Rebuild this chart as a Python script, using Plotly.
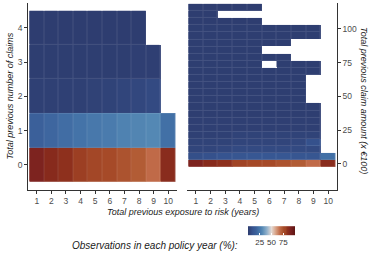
import plotly.graph_objects as go

# ---- data ----
exposure_years = [1, 2, 3, 4, 5, 6, 7, 8, 9, 10]
n_claims = [0, 1, 2, 3, 4]
claims_pct = [
    [90, 87, 84, 81, 78, 76, 74, 72, 68, 86],
    [17, 19, 21, 23, 25, 26, 28, 29, 30, 22],
    [2, 2, 2, 2, 2.5, 3, 4, 5, 6, None],
    [1, 1, 1, 1, 1, 1, 1, 1.5, 1.5, None],
    [0.5, 0.5, 0.5, 0.5, 0.5, 0.5, 0.5, 0.5, None, None],
]

claim_amount = [0, 5.26, 10.53, 15.79, 21.05, 26.32, 31.58, 36.84, 42.11, 47.37,
                52.63, 57.89, 63.16, 68.42, 73.68, 78.95, 84.21, 89.47, 94.74,
                100, 105.26, 110.53, 115.79]
N = None
amount_pct = [
    [90, 87, 84, 80, 77, 76, 74, 72, 68, 86],
    [8, 9, 10, 11, 12, 12, 12, 11, 11, 22],
    [4, 4, 5, 6, 6, 6, 6, 6, 6, N],
    [3, 3, 3, 4, 4, 4, 4, 5, 9, N],
    [2, 2, 2, 3, 3, 3, 3, 3, 3, N],
    [1.5, 1.5, 1.5, 1.5, 1.5, 1.5, 1.5, 1.5, 1.5, N],
    [1.5, 1.5, 1.5, 1.5, 1.5, 1.5, 1.5, 1.5, 1.5, N],
    [1, 1, 1, 1, 1, 1, 1, 1, 1, N],
    [1, 1, 1, 1, 1, 1, 1, 1, 1, N],
    [1, 1, 1, 1, 1, 1, 1, 1, N, N],
    [1, 1, 1, 1, 1, 1, 1, 1, N, N],
    [1, 1, 1, 1, 1, 1, 1, 1, N, N],
    [1, 1, 1, 1, 1, 1, 1, 1, N, N],
    [1, 1, 1, 1, 1, 1, 1, 1, 1, N],
    [1, 1, 1, 1, 1, N, 1, 1, 1, N],
    [1, 1, 1, 1, 1, 1, 1, N, N, N],
    [1, 1, 1, 1, 1, N, N, N, N, N],
    [1, 1, 1, 1, 1, 1, 1, N, N, N],
    [1, 1, 1, 1, 1, 1, 1, 1, 1, N],
    [1, 1, 1, 1, 1, 1, 1, 1, 1, N],
    [0.5, 0.5, 0.5, 0.5, 0.5, N, N, N, N, N],
    [0.5, 0.5, N, N, N, N, N, N, N, N],
    [0.5, 0.5, 0.5, 0.5, 0.5, N, N, N, N, N],
]

colorbar_ticks = [25, 50, 75]

# ---- styling ----
W, H = 374, 262
FONT = "Liberation Sans"
scale = [
    [0.00, "#2d3c6e"], [0.05, "#32477e"], [0.10, "#365490"], [0.17, "#3b609a"],
    [0.22, "#4270a6"], [0.26, "#4a7bad"], [0.30, "#5488b4"], [0.40, "#90b0cb"],
    [0.50, "#e4dad4"], [0.60, "#d69c7e"], [0.68, "#c06a48"], [0.72, "#b25c35"],
    [0.76, "#a64a28"], [0.80, "#a04425"], [0.84, "#8e301d"], [0.88, "#84281c"],
    [0.91, "#7a2020"], [1.00, "#5e1612"],
]


def lighten(hexcol, f=0.11):
    r, g, b = (int(hexcol[i:i + 2], 16) for i in (1, 3, 5))
    r, g, b = (round(c + (255 - c) * f) for c in (r, g, b))
    return f"rgb({r},{g},{b})"


scale_light = [[s, lighten(c)] for s, c in scale]


def px_x(p):
    return p / W


def px_y(p):
    return 1 - p / H


fig = go.Figure()
panels = [
    (exposure_years, n_claims, claims_pct, "x", "y"),
    (exposure_years, claim_amount, amount_pct, "x2", "y2"),
]
for xs, ys, zs, xa, ya in panels:
    # faint tile borders: lighter underlay seen through 1px gaps
    fig.add_trace(go.Heatmap(x=xs, y=ys, z=zs, colorscale=scale_light,
                             zmin=0, zmax=100, showscale=False,
                             xaxis=xa, yaxis=ya, hoverinfo="skip"))
    fig.add_trace(go.Heatmap(x=xs, y=ys, z=zs, coloraxis="coloraxis",
                             xaxis=xa, yaxis=ya, xgap=1, ygap=1,
                             hoverongaps=False))

axis_common = dict(
    automargin=False,
    showgrid=False, zeroline=False, showline=True, linecolor="#333333",
    linewidth=0.8, ticks="outside", ticklen=3, tickwidth=0.8, tickcolor="#333333",
    tickfont=dict(family=FONT, size=8.5, color="#4d4d4d"),
)

fig.update_layout(
    width=W, height=H,
    margin=dict(l=0, r=0, t=0, b=0, autoexpand=False),
    paper_bgcolor="white", plot_bgcolor="white",
    font=dict(family=FONT),
    xaxis=dict(domain=[px_x(28), px_x(177)], range=[0.4, 10.6],
               tickmode="array", tickvals=exposure_years, anchor="y", **axis_common),
    yaxis=dict(domain=[px_y(190), px_y(3)], range=[-0.74, 4.73],
               tickmode="array", tickvals=n_claims, anchor="x", **axis_common),
    xaxis2=dict(domain=[px_x(187), px_x(337)], range=[0.4, 10.6],
                tickmode="array", tickvals=exposure_years, anchor="y2", **axis_common),
    yaxis2=dict(domain=[px_y(190), px_y(3)], range=[-19.4, 119.1], side="right",
                tickmode="array", tickvals=[0, 25, 50, 75, 100], anchor="x2",
                **axis_common),
    coloraxis=dict(
        colorscale=scale, cmin=0, cmax=100,
        colorbar=dict(
            orientation="h", x=px_x(271.5), xanchor="center",
            y=px_y(237.5), yanchor="middle",
            len=47, lenmode="pixels", thickness=9,
            xpad=0, ypad=0, outlinewidth=0,
            tickvals=colorbar_ticks, ticks="inside", ticklen=2,
            tickcolor="white", tickwidth=0.6,
            tickfont=dict(family=FONT, size=8, color="#333333"),
        ),
    ),
    annotations=[
        dict(text="<i>Total previous number of claims</i>", x=px_x(9), y=px_y(96.5),
             xref="paper", yref="paper", textangle=-90, showarrow=False,
             font=dict(family=FONT, size=9, color="#1a1a1a"),
             xanchor="center", yanchor="middle"),
        dict(text="<i>Total previous exposure to risk (years)</i>", x=px_x(182.5),
             y=px_y(212), xref="paper", yref="paper", showarrow=False,
             font=dict(family=FONT, size=9, color="#1a1a1a"),
             xanchor="center", yanchor="middle"),
        dict(text="<i>Total previous claim amount (x €100)</i>", x=px_x(364),
             y=px_y(100), xref="paper", yref="paper", textangle=90, showarrow=False,
             font=dict(family=FONT, size=9, color="#1a1a1a"),
             xanchor="center", yanchor="middle"),
        dict(text="<i>Observations in each policy year (%):</i>", x=px_x(240),
             y=px_y(245), xref="paper", yref="paper", showarrow=False,
             font=dict(family=FONT, size=10, color="#1a1a1a"),
             xanchor="right", yanchor="middle"),
    ],
)

fig.write_html(
    "out.html",
    config={"displayModeBar": False},
    post_script="document.body.style.margin='0';document.body.style.overflow='hidden';",
)
